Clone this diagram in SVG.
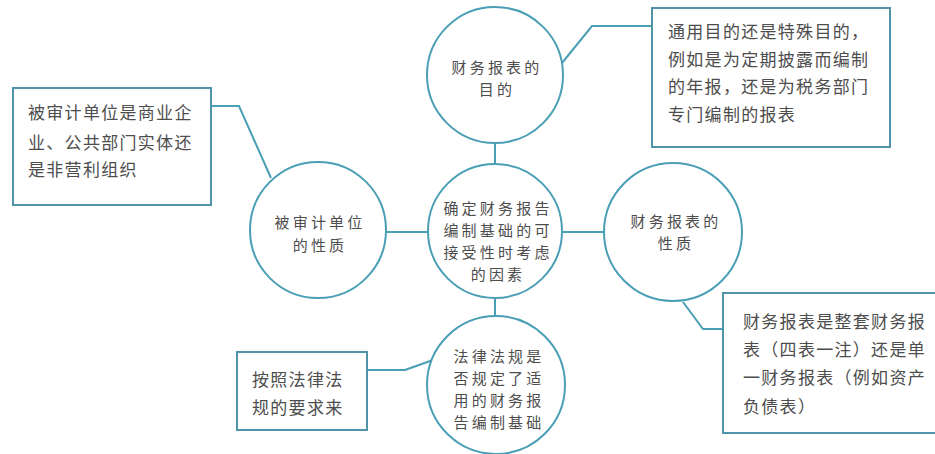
<svg xmlns="http://www.w3.org/2000/svg" width="935" height="454" viewBox="0 0 935 454">
<style>
.c{fill:#fff;stroke:#4a9fb5;stroke-width:2}
.b{fill:#fff;stroke:#4f93a8;stroke-width:2}
.l{fill:none;stroke:#4a9fb5;stroke-width:2}
text{font-family:"Noto Sans CJK SC","Noto Sans CJK TC",sans-serif;font-size:17px;fill:#4d4d4d;letter-spacing:1.3px}
.m{text-anchor:middle;font-size:15px;letter-spacing:3.2px}
</style>
<rect width="935" height="454" fill="#fff"/>
<g id="connectors">
<line class="l" x1="495" y1="143" x2="495" y2="165"/>
<line class="l" x1="495" y1="298" x2="495" y2="316"/>
<line class="l" x1="386" y1="232" x2="428" y2="232"/>
<line class="l" x1="563" y1="232" x2="604" y2="232"/>
<polyline class="l" points="211,106 239,106 271,178"/>
<polyline class="l" points="652,26 592,26 562,63"/>
<polyline class="l" points="723,329 703,329 683,302"/>
<polyline class="l" points="367,370 405,370 433,360"/>
</g>
<g id="center">
<circle class="c" cx="495" cy="231" r="67"/>
<text class="m" x="498" y="214">确定财务报告</text>
<text class="m" x="498" y="236">编制基础的可</text>
<text class="m" x="498" y="258">接受性时考虑</text>
<text class="m" x="498" y="280">的因素</text>
</g>
<g id="purpose">
<circle class="c" cx="495" cy="75" r="68"/>
<text class="m" x="497" y="73">财务报表的</text>
<text class="m" x="497" y="95">目的</text>
</g>
<g id="entity">
<circle class="c" cx="318" cy="230" r="68"/>
<text class="m" x="320" y="228">被审计单位</text>
<text class="m" x="320" y="251">的性质</text>
</g>
<g id="nature">
<circle class="c" cx="673" cy="232" r="69"/>
<text class="m" x="676" y="227">财务报表的</text>
<text class="m" x="676" y="249">性质</text>
</g>
<g id="law">
<circle class="c" cx="496" cy="385" r="69"/>
<text class="m" x="499" y="362">法律法规是</text>
<text class="m" x="499" y="384">否规定了适</text>
<text class="m" x="499" y="406">用的财务报</text>
<text class="m" x="499" y="428">告编制基础</text>
</g>
<g id="box-entity">
<rect class="b" x="13" y="88" width="198" height="117"/>
<text x="28" y="119">被审计单位是商业企</text>
<text x="28" y="149">业、公共部门实体还</text>
<text x="28" y="176">是非营利组织</text>
</g>
<g id="box-purpose">
<rect class="b" x="652" y="8" width="238" height="139"/>
<text x="668" y="38">通用目的还是特殊目的，</text>
<text x="668" y="66">例如是为定期披露而编制</text>
<text x="668" y="93">的年报，还是为税务部门</text>
<text x="668" y="121">专门编制的报表</text>
</g>
<g id="box-nature">
<rect class="b" x="723" y="293" width="220" height="140"/>
<text x="743" y="328">财务报表是整套财务报</text>
<text x="743" y="356">表（四表一注）还是单</text>
<text x="743" y="384">一财务报表（例如资产</text>
<text x="743" y="413">负债表）</text>
</g>
<g id="box-law">
<rect class="b" x="237" y="352" width="130" height="78"/>
<text x="252" y="386">按照法律法</text>
<text x="252" y="414">规的要求来</text>
</g>
</svg>
